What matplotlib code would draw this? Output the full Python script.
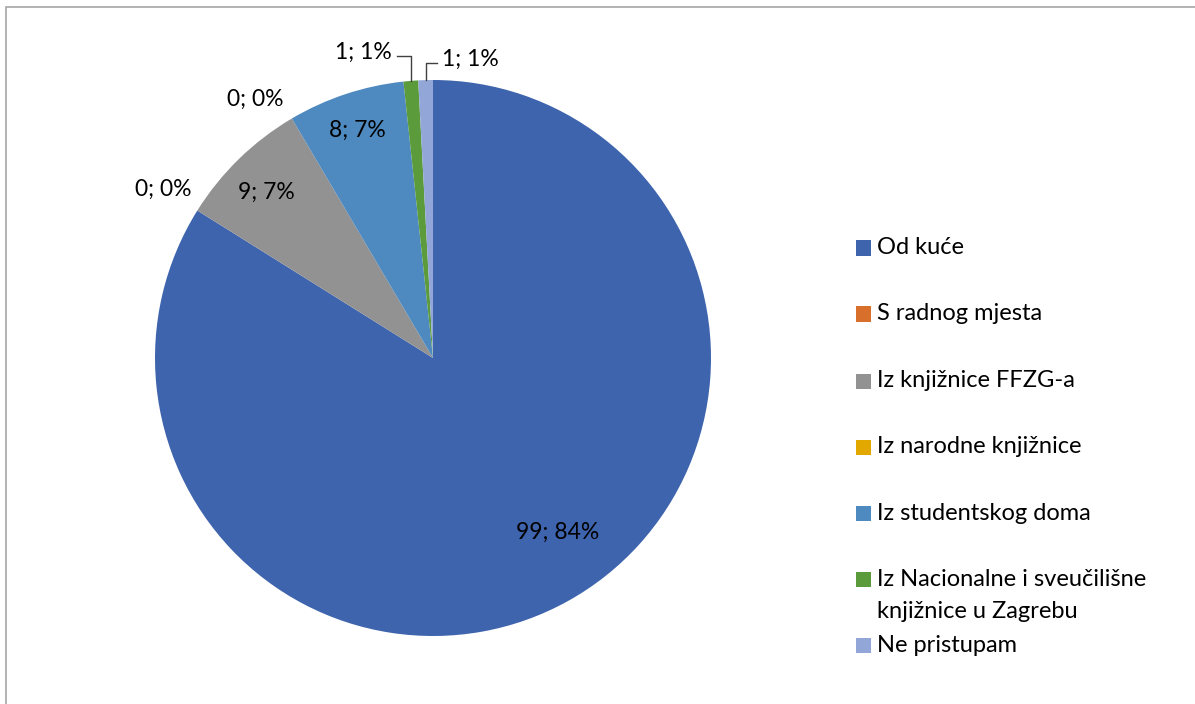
import matplotlib.pyplot as plt
import numpy as np
from matplotlib.patches import Rectangle

plt.rcParams['font.family'] = ['Lato', 'DejaVu Sans']

categories = ["Od kuće", "S radnog mjesta", "Iz knjižnice FFZG-a", "Iz narodne knjižnice",
              "Iz studentskog doma", "Iz Nacionalne i sveučilišne\nknjižnice u Zagrebu", "Ne pristupam"]
values = [99, 0, 9, 0, 8, 1, 1]
percents = [84, 0, 7, 0, 7, 1, 1]
colors = ["#3E64AD", "#D86F2A", "#929292", "#E2A800", "#4E89BF", "#5B9B3C", "#92A7D8"]

# label placement: (distance from centre, angle shift in degrees) per slice
label_pos = [(0.77, 6.5), (1.145, 0), (0.845, 1), (1.13, 4), (0.863, 0), None, None]

fig = plt.figure(figsize=(11.95, 7.04), dpi=100)
W, H = 1195, 704
cx, cy, R = 433, 358, 278
ax = fig.add_axes([(cx - R) / W, (H - cy - R) / H, 2 * R / W, 2 * R / H])

wedges, _ = ax.pie(values, colors=colors, startangle=90, counterclock=False,
                   radius=1, wedgeprops=dict(linewidth=0))
ax.set_xlim(-1, 1)
ax.set_ylim(-1, 1)
ax.set_aspect('equal')
ax.axis('off')

texts = ["%d; %d%%" % (v, p) for v, p in zip(values, percents)]
fs = 16.5

for i, w in enumerate(wedges):
    mid = (w.theta1 + w.theta2) / 2
    if label_pos[i] is not None:
        r, shift = label_pos[i]
        a = np.radians(mid + shift)
        ax.text(r * np.cos(a), r * np.sin(a), texts[i], ha='center', va='center',
                fontsize=fs, color='black')

# small slices with leader lines
lc = '#404040'
for i, lab_y, line_end, ha in [(5, 1.086, -0.13, 'right'), (6, 1.061, 0.014, 'left')]:
    mid = np.radians((wedges[i].theta1 + wedges[i].theta2) / 2)
    ex, ey = np.cos(mid), np.sin(mid)
    ax.plot([ex, ex, line_end], [ey, lab_y, lab_y], color=lc, lw=1.0, clip_on=False)
    tx = line_end - 0.017 if ha == 'right' else line_end + 0.018
    ax.text(tx, lab_y + 0.012, texts[i], ha=ha, va='center', fontsize=fs, color='black')

# legend
row_y = [248, 314, 381, 447, 513, 579, 645]
for c, lab, y in zip(colors, categories, row_y):
    fig.patches.append(Rectangle((856 / W, 1 - (y + 7.5) / H), 15 / W, 15 / H,
                                 transform=fig.transFigure, facecolor=c, edgecolor='none'))
    for k, line in enumerate(lab.split('\n')):
        fig.text(877 / W, 1 - (y + 33 * k) / H, line, ha='left', va='center',
                 fontsize=17, color='black', transform=fig.transFigure)

# chart border
fig.patches.append(Rectangle((6.5 / W, -0.05), 1.1, (H - 6.5) / H + 0.05,
                             transform=fig.transFigure, fill=False, edgecolor='#A6A6A6', lw=1.2))

fig.savefig("out.png", dpi=100)
